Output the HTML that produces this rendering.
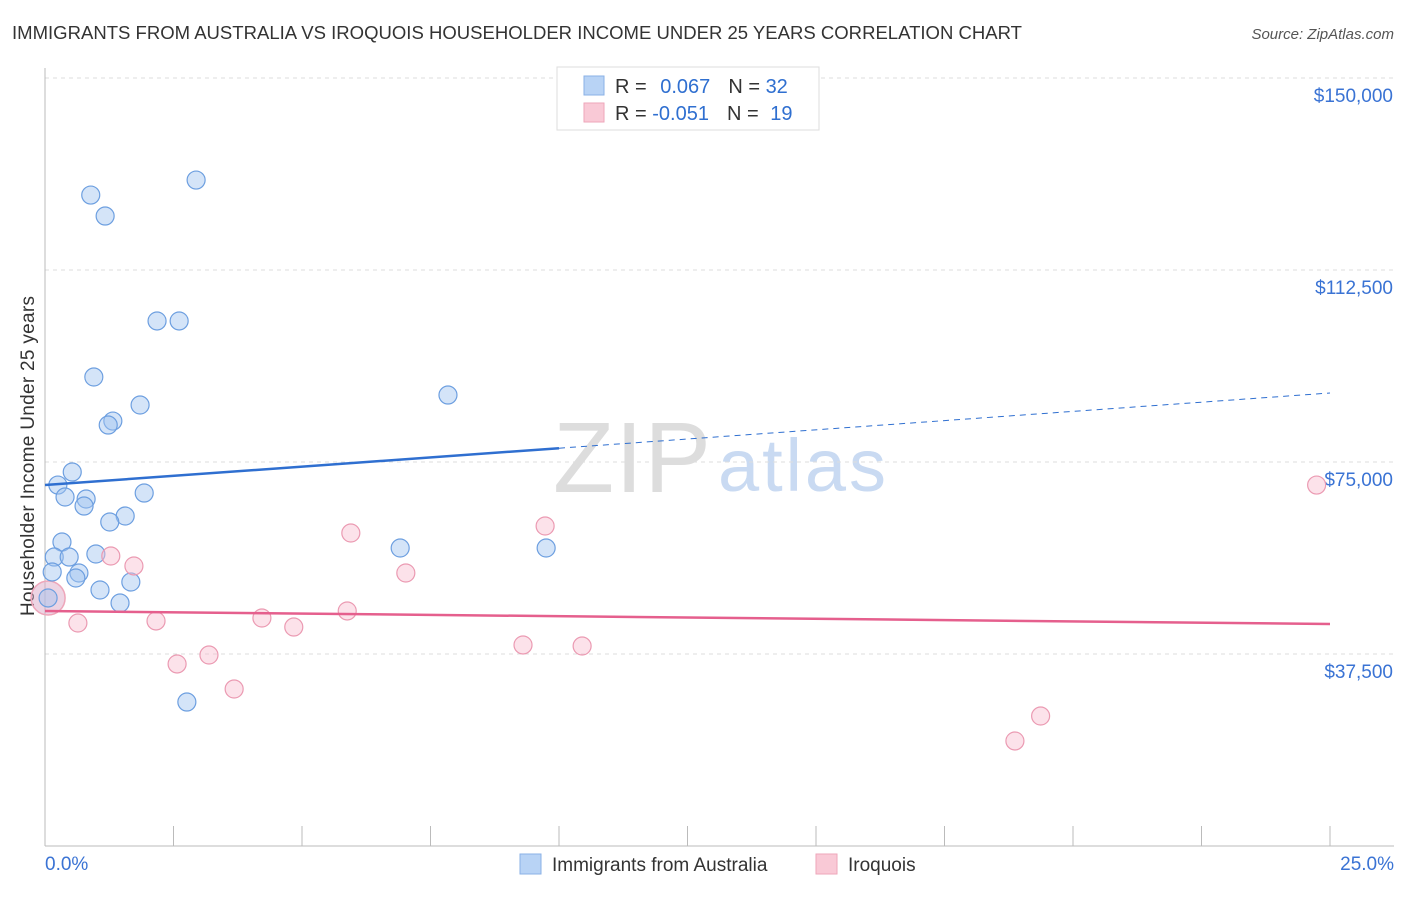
<!DOCTYPE html>
<html><head><meta charset="utf-8"><style>
body{margin:0;background:#fff;font-family:"Liberation Sans",sans-serif}
svg text{font-family:"Liberation Sans",sans-serif}
</style></head><body>
<svg id="c" width="1406" height="892">
<text x="12" y="39" font-size="18" fill="#333" textLength="1010" lengthAdjust="spacingAndGlyphs">IMMIGRANTS FROM AUSTRALIA VS IROQUOIS HOUSEHOLDER INCOME UNDER 25 YEARS CORRELATION CHART</text>
<text x="1394" y="39" font-size="15" fill="#555" text-anchor="end" font-style="italic">Source: ZipAtlas.com</text>
<text x="34" y="456" font-size="19" fill="#333" text-anchor="middle" textLength="320" transform="rotate(-90 34 456)">Householder Income Under 25 years</text>
<text x="553" y="492" font-size="100" fill="#ddd" font-family="Liberation Serif" textLength="158">ZIP</text>
<text x="718" y="491" font-size="74" fill="#c9daf2" textLength="168">atlas</text>
<g id="grid"></g><g id="marks"></g>
<g>
<rect x="557" y="67" width="262" height="63" fill="#fff" stroke="#ddd"/>
<rect x="584" y="76" width="20" height="19" fill="#b8d3f5" stroke="#8ab0e6"/>
<rect x="584" y="103" width="20" height="19" fill="#f9c9d6" stroke="#eea6ba"/>
<text x="615" y="93" font-size="20" fill="#333">R = <tspan fill="#2f6fd0" dx="8">0.067</tspan><tspan fill="#333" dx="18">N = </tspan><tspan fill="#2f6fd0">32</tspan></text>
<text x="615" y="120" font-size="20" fill="#333">R = <tspan fill="#2f6fd0">-0.051</tspan><tspan fill="#333" dx="18">N = </tspan><tspan fill="#2f6fd0" dx="6">19</tspan></text>
</g>
<g>
<rect x="520" y="854" width="21" height="20" fill="#b8d3f5" stroke="#8ab0e6"/>
<text x="552" y="871" font-size="19" fill="#333">Immigrants from Australia</text>
<rect x="816" y="854" width="21" height="20" fill="#f9c9d6" stroke="#eea6ba"/>
<text x="848" y="871" font-size="19" fill="#333">Iroquois</text>
</g>
</svg>
<script>
const blueX=[0.89,1.17,2.94,2.18,2.61,0.95,1.85,7.84,1.32,1.23,0.53,0.25,0.39,0.80,0.76,1.93,1.56,1.26,0.33,0.18,0.47,0.99,0.66,0.60,1.67,1.07,1.46,2.76,6.91,9.75,0.06,0.14];
const blueY=[127140,123040,130070,102540,102540,91600,86130,88080,83000,82220,73040,70500,68160,67770,66400,68940,64450,63280,59370,56440,56440,57030,53320,52340,51560,50000,47460,28120,58200,58200,48440,53520];
const pinkX=[0.64,1.28,1.73,2.16,2.57,3.19,3.68,4.22,4.84,5.88,5.95,7.02,9.30,9.73,10.45,18.87,19.37,24.74];
const pinkY=[43550,56640,54690,43950,35550,37300,30660,44530,42770,45900,61130,53320,39260,62500,39060,20510,25390,70500];
const pinkBig=[0.06,48440];
const blueTrend=[70500,88480];
const pinkTrend=[45900,43360];
const yTicks=[37500,75000,112500,150000];
const yTickLabels=["$37,500","$75,000","$112,500","$150,000"];
const xTickLabels=["0.0%","25.0%"];
const NS="http://www.w3.org/2000/svg";
const sx=v=>45+v/25*1285, sy=v=>846-v/37500*192;
const grid=document.getElementById('grid'), marks=document.getElementById('marks');
function mk(p,tag,a){const e=document.createElementNS(NS,tag);for(const k in a)e.setAttribute(k,a[k]);p.appendChild(e);return e;}
yTicks.forEach((t,i)=>{
 const l=mk(grid,'line',{x1:45,x2:1394,y1:sy(t),y2:sy(t),stroke:'#ddd','stroke-dasharray':'4 4'});
 
 
 const tx=mk(grid,'text',{x:1393,y:sy(t)+24,'font-size':19,fill:'#3a73d4','text-anchor':'end'});tx.textContent=yTickLabels[i];
 
 
});
mk(grid,'line',{x1:45,x2:45,y1:68,y2:846,stroke:'#bbb'});
mk(grid,'line',{x1:45,x2:1394,y1:846,y2:846,stroke:'#bbb'});
for(let i=0;i<=10;i++){const x=sx(i*2.5);mk(grid,'line',{x1:x,x2:x,y1:826,y2:846,stroke:'#bbb'});}
xTickLabels.forEach((s,i)=>{const t=mk(grid,'text',{x:i?1394:45,y:870,'font-size':19,fill:'#3a73d4','text-anchor':i?'end':'start'});t.textContent=s;
 
 });
const bx=v=>blueTrend[0]+(blueTrend[1]-blueTrend[0])*v/25;
const px=v=>pinkTrend[0]+(pinkTrend[1]-pinkTrend[0])*v/25;
const c=mk(marks,'circle',{cx:sx(pinkBig[0]),cy:sy(pinkBig[1]),r:17,fill:'rgba(220,170,200,0.5)',stroke:'#eea6ba','stroke-width':1.5});


blueX.forEach((x,i)=>{const e=mk(marks,'circle',{cx:sx(x),cy:sy(blueY[i]),r:9,fill:'rgba(160,196,240,0.45)',stroke:'#6d9fe0','stroke-width':1.2});
 
 });
pinkX.forEach((x,i)=>{const e=mk(marks,'circle',{cx:sx(x),cy:sy(pinkY[i]),r:9,fill:'rgba(248,190,208,0.45)',stroke:'#eb9ab2','stroke-width':1.2});
 
 });
let e=mk(marks,'line',{x1:sx(0),y1:sy(bx(0)),x2:sx(10),y2:sy(bx(10)),stroke:'#2f6fd0','stroke-width':2.5});


e=mk(marks,'line',{x1:sx(10),y1:sy(bx(10)),x2:sx(25),y2:sy(bx(25)),stroke:'#2f6fd0','stroke-width':1,'stroke-dasharray':'6 5'});


e=mk(marks,'line',{x1:sx(0),y1:sy(px(0)),x2:sx(25),y2:sy(px(25)),stroke:'#e55f8d','stroke-width':2.5});


</script>
</body></html>
